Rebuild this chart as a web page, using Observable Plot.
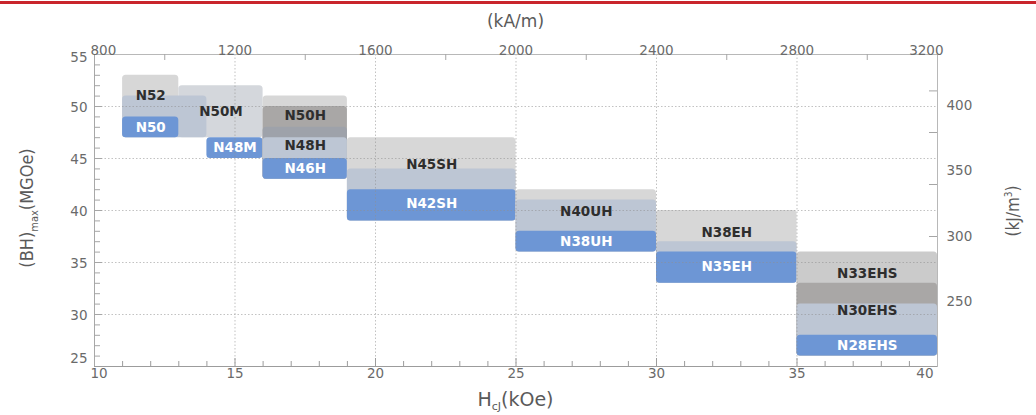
<!DOCTYPE html>
<html><head><meta charset="utf-8">
<script src="https://cdn.jsdelivr.net/npm/d3@7"></script>
<script src="https://cdn.jsdelivr.net/npm/@observablehq/plot@0.6"></script>
<style>
html,body{margin:0;padding:0;background:#fff;}
#wrap{position:relative;width:1036px;height:415px;overflow:hidden;background:#fff;}
#redline{position:absolute;left:0;top:1px;width:1036px;height:3px;background:#c9252c;}
#chart svg{display:block;}
</style></head><body>
<div id="wrap"><div id="chart"></div><div id="redline"></div></div>
<script>
// ---- Data ----
// Coloured bands: Hcj range (kOe) x BHmax range (MGOe), drawn in this order (later bands on top)
const bandX1 = [11, 13, 11, 11, 14, 16, 16, 16, 16, 16, 19, 19, 19, 25, 25, 25, 30, 30, 30, 35, 35, 35, 35];
const bandX2 = [13, 16, 14, 13, 16, 19, 19, 19, 19, 19, 25, 25, 25, 30, 30, 30, 35, 35, 35, 40, 40, 40, 40];
const bandY1 = [47, 47, 47, 47, 45, 43, 43, 43, 43, 43, 39, 39, 39, 36, 36, 36, 33, 33, 33, 26, 26, 26, 26];
const bandY2 = [53, 52, 51, 49, 47, 51, 50, 48, 47, 45, 47, 44, 42, 42, 41, 38, 40, 37, 36, 36, 33, 31, 28];
const bandTone = ["light","light2","bluegray","blue","blue","light","dark","darker","bluegray","blue",
                  "light","bluegray","blue","light","bluegray","blue","light","bluegray","blue",
                  "mid","dark","bluegray","blue"];
const toneColor = {light:"#d7d7d7", light2:"#d4d7dc", mid:"#cbcbcb", bluegray:"#bdc6d4",
                   blue:"#6d96d5", dark:"#a9a7a6", darker:"#9ea2aa"};

// Grade labels
const gradeNames = ["N52","N50","N50M","N48M","N50H","N48H","N46H","N45SH","N42SH",
                    "N40UH","N38UH","N38EH","N35EH","N33EHS","N30EHS","N28EHS"];
const gradeHcj  = [12, 12, 14.5, 15, 17.5, 17.5, 17.5, 22, 22, 27.5, 27.5, 32.5, 32.5, 37.5, 37.5, 37.5];
const gradeBH   = [51, 48, 49.5, 46, 49.1, 46.25, 44, 44.4, 40.7, 39.9, 37, 37.9, 34.6, 33.9, 30.4, 27];
const gradeOnBlue = [false,true,false,true,false,false,true,false,true,false,true,false,true,false,false,true];

// Axes
const kOeTicks = [10, 15, 20, 25, 30, 35, 40];
const mgoeTicks = [25, 30, 35, 40, 45, 50, 55];
const kAmTicks = [800, 1200, 1600, 2000, 2400, 2800, 3200];
const kAmMinor = [1000, 1400, 1800, 2200, 2600, 3000];
const kJTicks = [250, 300, 350, 400];
const rightInnerTicks = [51.5, 47.5, 42.5, 37.5];
const gridX = [15, 20, 25, 30, 35];
const gridY = [30, 35, 40, 45, 50];
const KAM_PER_KOE = 80;      // top axis is drawn linearly: 800 at 10 kOe, 3200 at 40 kOe
const KJ_PER_MGOE = 7.958;   // 1 MGOe = 7.958 kJ/m^3

// ---- Build ----
const W = 1036, H = 415, mL = 94, mR = 99, mT = 54, mB = 49;
const innerW = W - mL - mR, innerH = H - mT - mB;

const bands = bandX1.map((x1, i) => ({x1, x2: bandX2[i], y1: bandY1[i], y2: bandY2[i], tone: bandTone[i]}));
const grades = gradeNames.map((name, i) => ({name, x: gradeHcj[i], y: gradeBH[i], onBlue: gradeOnBlue[i]}));
const minorX = d3.range(11, 40).filter(v => v % 5 !== 0);
const minorY = d3.range(26, 55).filter(v => v % 5 !== 0);

const tickFont = {fontFamily: "DejaVu Sans", fontSize: 13.5, fill: "#6a6a6a"};
const gridStyle = {stroke: "#8f8f8f", strokeDasharray: "1.5,2", strokeOpacity: 0.55, strokeWidth: 1};

const plot = Plot.plot({
  width: W, height: H,
  marginLeft: mL, marginRight: mR, marginTop: mT, marginBottom: mB,
  x: {domain: [10, 40], axis: null},
  y: {domain: [25, 55], axis: null},
  color: {type: "identity"},
  style: {fontFamily: "DejaVu Sans", background: "white", overflow: "visible"},
  marks: [
    // coloured grade bands
    Plot.rect(bands, {x1: "x1", x2: "x2", y1: "y1", y2: "y2", fill: d => toneColor[d.tone], rx: 3.5, ry: 3.5}),
    // grid
    Plot.ruleX(gridX, gridStyle),
    Plot.ruleY(gridY, gridStyle),
    // frame
    Plot.frame({stroke: "#b8b8b8", strokeWidth: 1}),
    Plot.ruleY([25], {stroke: "#9c9c9c"}),
    Plot.ruleX([10], {stroke: "#a8a8a8"}),
    // inward ticks
    Plot.ruleX(minorX, {stroke: "#9c9c9c", insetTop: innerH - 5}),
    Plot.ruleX(gridX, {stroke: "#9c9c9c", insetTop: innerH - 8}),
    Plot.ruleY(minorY, {stroke: "#a6a6a6", insetRight: innerW - 6}),
    Plot.ruleY(gridY, {stroke: "#a6a6a6", insetRight: innerW - 8}),
    Plot.ruleX(kAmMinor, {x: d => d / KAM_PER_KOE, stroke: "#a6a6a6", insetBottom: innerH - 6}),
    Plot.ruleY(rightInnerTicks, {stroke: "#a6a6a6", insetLeft: innerW - 8}),
    // grade labels
    Plot.text(grades, {x: "x", y: "y", text: "name", fill: d => d.onBlue ? "#ffffff" : "#2e2e2e",
      fontFamily: "DejaVu Sans", fontWeight: "bold", fontSize: 13.5}),
    // bottom tick labels
    Plot.text(kOeTicks.slice(1, -1), {x: d => d, frameAnchor: "bottom", dy: 11, text: d => String(d), ...tickFont}),
    Plot.text(kOeTicks.slice(0, 1), {x: d => d, frameAnchor: "bottom", dy: 11, dx: -4, textAnchor: "start", text: d => String(d), ...tickFont}),
    Plot.text(kOeTicks.slice(-1), {x: d => d, frameAnchor: "bottom", dy: 11, dx: -4, textAnchor: "end", text: d => String(d), ...tickFont}),
    // top tick labels (kA/m)
    Plot.text(kAmTicks.slice(1, -1), {x: d => d / KAM_PER_KOE, frameAnchor: "top", dy: -9, text: d => String(d), ...tickFont}),
    Plot.text(kAmTicks.slice(0, 1), {x: d => d / KAM_PER_KOE, frameAnchor: "top", dy: -9, dx: -4, textAnchor: "start", text: d => String(d), ...tickFont}),
    Plot.text(kAmTicks.slice(-1), {x: d => d / KAM_PER_KOE, frameAnchor: "top", dy: -9, dx: 6, textAnchor: "end", text: d => String(d), ...tickFont}),
    // left tick labels (MGOe)
    Plot.text(mgoeTicks.slice(1, -1), {y: d => d, frameAnchor: "left", dx: -7, dy: 1, textAnchor: "end", text: d => String(d), ...tickFont}),
    Plot.text(mgoeTicks.slice(0, 1), {y: d => d, frameAnchor: "left", dx: -7, dy: -8, textAnchor: "end", text: d => String(d), ...tickFont}),
    Plot.text(mgoeTicks.slice(-1), {y: d => d, frameAnchor: "left", dx: -7, dy: 3, textAnchor: "end", text: d => String(d), ...tickFont}),
    // right tick labels (kJ/m3)
    Plot.text(kJTicks, {y: d => d / KJ_PER_MGOE, frameAnchor: "right", dx: 9, dy: 2, textAnchor: "start", text: d => String(d), ...tickFont})
  ]
});

document.getElementById("chart").appendChild(plot);

// ---- Axis titles ----
const svg = d3.select(plot);
const titleColor = "#5a5a5a";
const cx = mL + innerW / 2;
const cy = mT + innerH / 2;

svg.append("text").attr("x", cx + 0).attr("y", 27).attr("text-anchor", "middle")
  .attr("font-family", "DejaVu Sans").attr("font-size", 17).attr("fill", titleColor).text("(kA/m)");

const bt = svg.append("text").attr("x", cx).attr("y", 406).attr("text-anchor", "middle")
  .attr("font-family", "DejaVu Sans").attr("font-size", 19).attr("fill", titleColor);
bt.append("tspan").text("H");
bt.append("tspan").attr("font-size", 11).attr("dy", 4).text("cJ");
bt.append("tspan").attr("dy", -4).text("(kOe)");

const lt = svg.append("text").attr("transform", `translate(33,${cy - 2}) rotate(-90)`).attr("text-anchor", "middle")
  .attr("font-family", "DejaVu Sans Condensed, DejaVu Sans").attr("font-size", 18).attr("fill", titleColor);
lt.append("tspan").text("(BH)");
lt.append("tspan").attr("font-size", 11).attr("dy", 5).text("max");
lt.append("tspan").attr("dy", -5).text("(MGOe)");

const rt = svg.append("text").attr("transform", `translate(1019,${cy + 1}) rotate(-90)`).attr("text-anchor", "middle")
  .attr("font-family", "DejaVu Sans Condensed, DejaVu Sans").attr("font-size", 17).attr("fill", titleColor);
rt.append("tspan").text("(kJ/m");
rt.append("tspan").attr("font-size", 10).attr("dy", -7).text("3");
rt.append("tspan").attr("dy", 7).text(")");
</script>
</body></html>
